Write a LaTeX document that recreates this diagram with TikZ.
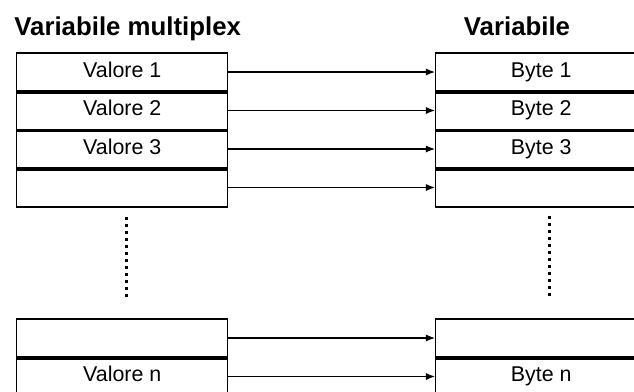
\documentclass[tikz,border=0pt]{standalone}
\usepackage{fontspec}
\setmainfont{Liberation Sans}
\usetikzlibrary{arrows.meta}

\begin{document}
\begin{tikzpicture}[x=0.5pt, y=-0.5pt,
  cell/.style={draw, line width=0.75pt, rectangle, inner sep=0pt, anchor=north west,
    minimum width=105.5pt, minimum height=19.25pt, text height=8pt, text depth=3pt,
    font=\fontsize{10.7}{12}\selectfont},
  sep/.style={line width=1.6pt},
  link/.style={line width=0.6pt, -{Latex[length=4.5pt,width=3.5pt]}},
  dots/.style={line width=1.5pt, dash pattern=on 1.5pt off 2pt},
  title/.style={font=\fontsize{12.9}{14}\selectfont\bfseries, inner sep=0pt}]
  \clip (0,0) rectangle (634,392);
  \node[title, anchor=base west] (tmux) at (14,35) {Variabile multiplex};
  \node[title, anchor=base] (tvar) at (517,35) {Variabile};
  % upper rows
  \foreach \i/\val/\byte in {1/Valore 1/Byte 1, 2/Valore 2/Byte 2, 3/Valore 3/Byte 3, 4//} {
    \node[cell] (v\i) at (16, 52+38.5*\i-38.5) {\val};
    \node[cell] (b\i) at (435, 52+38.5*\i-38.5) {\byte};
    \draw[link] (v\i.east) -- (b\i.west);
  }
  \foreach \i in {1,2,3} {
    \draw[sep] (v\i.south west) -- (v\i.south east);
    \draw[sep] (b\i.south west) -- (b\i.south east);
  }
  % gap
  \coordinate (dl1) at (127,217);
  \coordinate (dl2) at (127,300);
  \coordinate (dr1) at (550,216);
  \coordinate (dr2) at (550,298);
  \draw[dots] (dl1) -- (dl2);
  \draw[dots] (dr1) -- (dr2);
  % last rows
  \node[cell] (vm) at (16,318) {};
  \node[cell] (bm) at (435,318) {};
  \node[cell] (vn) at (16,356.5) {Valore n};
  \node[cell] (bn) at (435,356.5) {Byte n};
  \draw[sep] (vm.south west) -- (vm.south east);
  \draw[sep] (bm.south west) -- (bm.south east);
  \draw[link] (vm.east) -- (bm.west);
  \draw[link] (vn.east) -- (bn.west);
\end{tikzpicture}
\end{document}
